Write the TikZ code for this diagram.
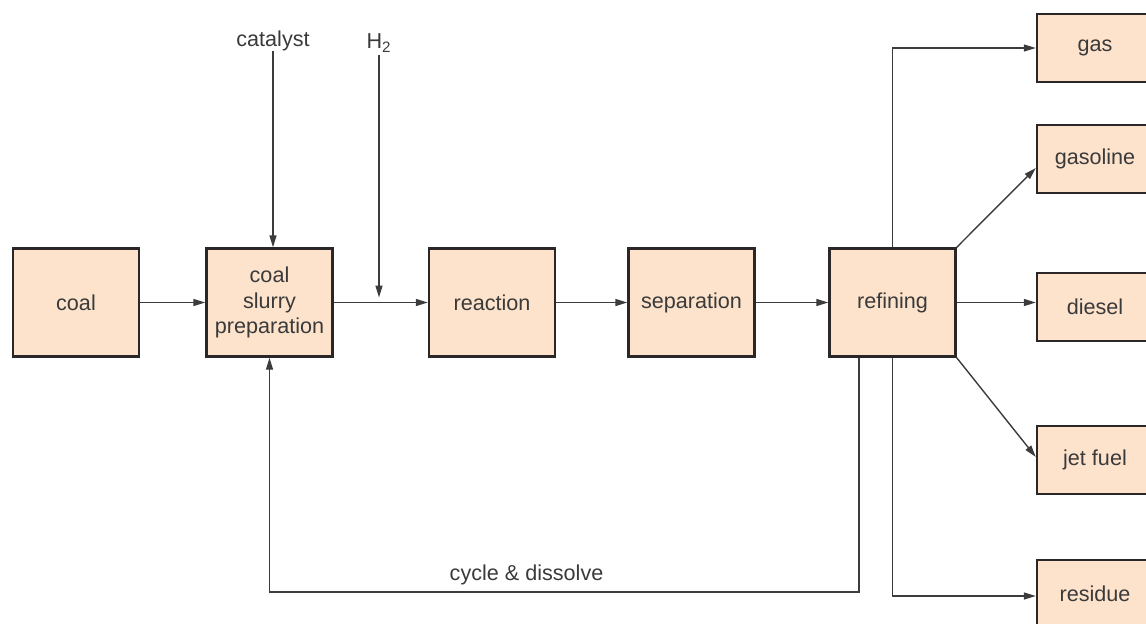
\documentclass[tikz,border=0pt]{standalone}
\usepackage{fontspec}
\setmainfont{Liberation Sans}
\usetikzlibrary{arrows.meta}
\definecolor{boxfill}{HTML}{FDE3CC}
\definecolor{boxline}{HTML}{2B2627}
\definecolor{flowline}{HTML}{3C3C3C}
\definecolor{labeltext}{HTML}{3A3A3A}
\begin{document}
\begin{tikzpicture}[x=0.5pt,y=-0.5pt]
\tikzstyle{every node}+=[font=\fontsize{10.8}{12.75}\selectfont, text=labeltext]
\tikzstyle{unit}=[draw=boxline, fill=boxfill, line width=1.2pt, minimum width=63pt, minimum height=54pt, align=center, inner sep=0pt]
\tikzstyle{product}=[unit, minimum width=58pt, minimum height=34pt]
\tikzstyle{flow}=[draw=flowline, line width=0.7pt, -{Triangle[length=6pt,width=3.5pt]}]
\useasboundingbox (0,0) rectangle (1146,623);
% main line
\node [unit] (coal) at (76,302.5) {coal};
\node [unit] (slurry) at (269.5,302.5) {coal\\slurry\\preparation};
\node [unit] (reaction) at (492,302.5) {reaction};
\node [unit] (separation) at (691.5,302.5) {separation};
\node [unit] (refining) at (892.5,302.5) {refining};
% products
\node [product] (gas) at (1095,48) {gas};
\node [product] (gasoline) at (1095,159) {gasoline};
\node [product] (diesel) at (1095,307) {diesel};
\node [product] (jetfuel) at (1095,460) {jet fuel};
\node [product] (residue) at (1095,594) {residue};
% feeds
\node [inner sep=0pt] (catalyst) at (273,41) {catalyst};
\node [inner sep=0pt] (hydrogen) at (379,43) {H\textsubscript{2}};
\coordinate (h2in) at (379,302.5);
\coordinate (cyclebot) at (859,592);
\draw [flow] (coal) -- (slurry);
\draw [flow] (catalyst.south) -- (catalyst.south |- slurry.north);
\draw [flow, shorten >=2.5pt] ([yshift=-1.5pt]hydrogen.south) -- (h2in);
\draw [flow] (slurry) -- (reaction);
\draw [flow] (reaction) -- (separation);
\draw [flow] (separation) -- (refining);
\draw [flow] (refining.north) |- (gas.west);
\draw [flow] (refining.north east) -- ([yshift=-4.5pt]gasoline.west);
\draw [flow] (refining.east) -- (refining.east -| diesel.west);
\draw [flow] (refining.south east) -- ([yshift=1.5pt]jetfuel.west);
\draw [flow] (refining.south) |- ([yshift=-1pt]residue.west);
\draw [flow] (refining.south -| cyclebot) -- (cyclebot) -| node [pos=0.282, above=3pt, inner sep=0pt] {cycle \& dissolve} (slurry.south);
\end{tikzpicture}
\end{document}
